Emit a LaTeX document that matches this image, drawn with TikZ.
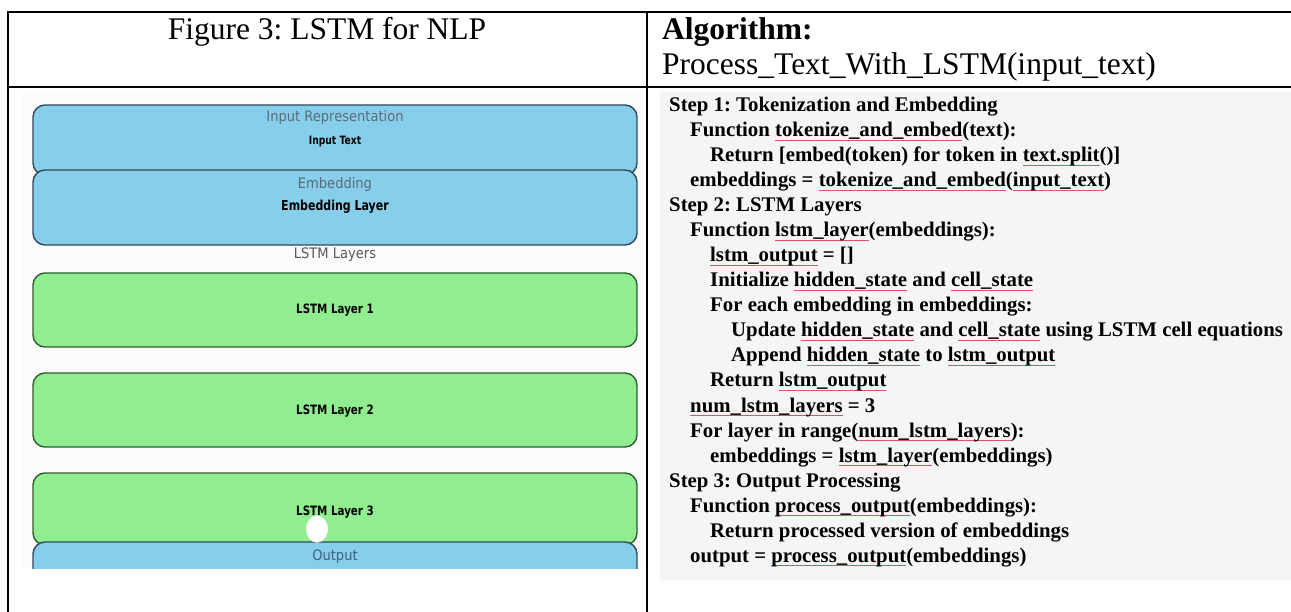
\documentclass[tikz,border=0pt]{standalone}
\usepackage{fontspec}
\usepackage{graphicx}
\setmainfont{Liberation Serif}
\newfontfamily\diagfont{DejaVu Sans}
\usetikzlibrary{shapes.geometric}
\frenchspacing

\definecolor{skyfill}{HTML}{87CEEB}
\definecolor{skyedge}{HTML}{2E4A5C}
\definecolor{leaffill}{HTML}{90EE90}
\definecolor{leafedge}{HTML}{2F5D33}
\definecolor{labelgray}{HTML}{5A6B7A}
\definecolor{outblue}{HTML}{3F5F80}
\definecolor{panelgray}{HTML}{F5F5F5}
\definecolor{figpanel}{HTML}{FBFBFB}
\definecolor{spellred}{HTML}{E0506A}

% spell-check style underline under a word
\newcommand\spell[1]{\leavevmode\sbox0{#1}\rlap{\textcolor{spellred}{\rule[-4pt]{\wd0}{0.7pt}}}\usebox0}
% narrow light label and tall bold label used in the diagram
\newcommand\narrowlbl[1]{\scalebox{0.9}[1]{#1}}
\newcommand\talllbl[1]{\scalebox{1}[1.25]{#1}}

\tikzset{
  rule/.style={line width=2pt, black},
  skybox/.style={draw=skyedge, fill=skyfill, line width=1.4pt, rounded corners=12pt,
                 minimum width=604pt, inner sep=0pt},
  leafbox/.style={draw=leafedge, fill=leaffill, line width=1.4pt, rounded corners=12pt,
                  minimum width=604pt, inner sep=0pt},
  thinlabel/.style={inner sep=0pt, font=\diagfont\fontsize{14.5}{16}\selectfont, text=labelgray},
  boldlabel/.style={inner sep=0pt, text=black},
  headtext/.style={inner sep=0pt, font=\fontsize{31.5}{34}\selectfont},
  codeline/.style={anchor=base west, inner sep=0pt, font=\bfseries\fontsize{20.8}{25}\selectfont}
}

\begin{document}
\begin{tikzpicture}[x=1pt,y=-1pt]
\useasboundingbox (0,0) rectangle (1291,612);
\fill[white] (0,0) rectangle (1291,612);

% ---- figure panel ----
\fill[figpanel] (22,92) rectangle (641,568);
\node[skybox, minimum height=70pt] (inrep) at (335,140) {};
\node[skybox, minimum height=75pt] (embed) at (335,207.5) {};
\node[thinlabel] (inreplbl) at (335,118) {\narrowlbl{Input Representation}};
\node[boldlabel, font=\diagfont\bfseries\fontsize{9.2}{11}\selectfont] (intext) at (335,142) {\talllbl{Input Text}};
\node[thinlabel] (embedlbl) at (335,185) {\narrowlbl{Embedding}};
\node[boldlabel, font=\diagfont\bfseries\fontsize{11}{13}\selectfont] (embedlayer) at (335,207) {\talllbl{Embedding Layer}};
\node[thinlabel, text=black!65] (lstmhead) at (335,255) {\narrowlbl{LSTM Layers}};

\node[leafbox, minimum height=74pt] (lstm1) at (335,310) {};
\node[boldlabel, font=\diagfont\bfseries\fontsize{10.3}{12}\selectfont] (lstm1lbl) at (335,310) {\talllbl{LSTM Layer 1}};
\node[leafbox, minimum height=74pt] (lstm2) at (335,410) {};
\node[boldlabel, font=\diagfont\bfseries\fontsize{10.3}{12}\selectfont] (lstm2lbl) at (335,411) {\talllbl{LSTM Layer 2}};
\node[leafbox, minimum height=72pt] (lstm3) at (335,509) {};
\node[boldlabel, font=\diagfont\bfseries\fontsize{10.3}{12}\selectfont] (lstm3lbl) at (335,512) {\talllbl{LSTM Layer 3}};
\begin{scope}
  \clip (22,400) rectangle (641,568);
  \node[skybox, minimum height=70pt] (outbox) at (335,577) {};
  \node[thinlabel, text=outblue] (outlbl) at (335,557) {\narrowlbl{Output}};
\end{scope}
\node[ellipse, fill=white, draw=black!15, line width=0.4pt, minimum width=22pt,
      minimum height=27pt, inner sep=0pt] (blob) at (317,529) {};

% ---- algorithm panel ----
\fill[panelgray] (660,92) rectangle (1291,580);
\node[codeline] (l1)  at (669,112) {Step 1: Tokenization and Embedding};
\node[codeline] (l2)  at (690,137) {Function \spell{tokenize\_and\_embed}(text):};
\node[codeline] (l3)  at (710,162) {Return [embed(token) for token in \spell{text.split}()]};
\node[codeline] (l4)  at (690,187) {embeddings = \spell{tokenize\_and\_embed}(\spell{input\_text})};
\node[codeline] (l5)  at (669,212) {Step 2: LSTM Layers};
\node[codeline] (l6)  at (690,237) {Function \spell{lstm\_layer}(embeddings):};
\node[codeline] (l7)  at (710,262) {\spell{lstm\_output} = []};
\node[codeline] (l8)  at (710,287) {Initialize \spell{hidden\_state} and \spell{cell\_state}};
\node[codeline] (l9)  at (710,312) {For each embedding in embeddings:};
\node[codeline] (l10) at (731,337) {Update \spell{hidden\_state} and \spell{cell\_state} using LSTM cell equations};
\node[codeline] (l11) at (731,362) {Append \spell{hidden\_state} to \spell{lstm\_output}};
\node[codeline] (l12) at (710,387) {Return \spell{lstm\_output}};
\node[codeline] (l13) at (690,412) {\spell{num\_lstm\_layers} = 3};
\node[codeline] (l14) at (690,437) {For layer in range(\spell{num\_lstm\_layers}):};
\node[codeline] (l15) at (710,462) {embeddings = \spell{lstm\_layer}(embeddings)};
\node[codeline] (l16) at (669,487) {Step 3: Output Processing};
\node[codeline] (l17) at (690,512) {Function \spell{process\_output}(embeddings):};
\node[codeline] (l18) at (710,537) {Return processed version of embeddings};
\node[codeline] (l19) at (690,562) {output = \spell{process\_output}(embeddings)};

% ---- table rules and header ----
\draw[rule] (7,12) -- (1291,12);
\draw[rule] (7,87) -- (1291,87);
\draw[rule] (8,11) -- (8,612);
\draw[rule] (647,11) -- (647,612);
\node[headtext, anchor=base] (figtitle) at (327,40) {Figure 3: LSTM for NLP};
\node[headtext, anchor=base west, font=\bfseries\fontsize{31.5}{34}\selectfont] (algohead) at (662,40) {Algorithm:};
\node[headtext, anchor=base west] (algosig) at (662,75) {Process\_Text\_With\_LSTM(input\_text)};
\end{tikzpicture}
\end{document}
